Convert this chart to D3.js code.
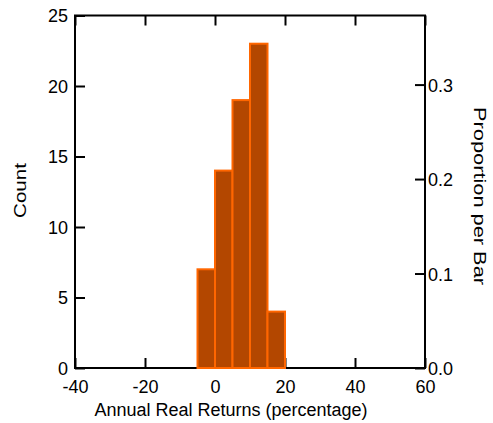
<!DOCTYPE html>
<html><head><meta charset="utf-8">
<script src="https://cdn.jsdelivr.net/npm/d3@7"></script>
<style>body{margin:0;background:#fff}svg{display:block}text{font-family:"Liberation Sans",Arial,sans-serif;fill:#000}</style>
</head><body><svg id="c" width="493" height="423"></svg>
<script>
const binStarts = [-40,-35,-30,-25,-20,-15,-10,-5,0,5,10,15,20,25,30,35,40,45,50,55];
const counts    = [0,0,0,0,0,0,0,7,14,19,23,4,0,0,0,0,0,0,0,0];
const binWidth = 5;
const xTicks = [-40,-20,0,20,40,60];
const yTicks = [0,5,10,15,20,25];
const propTicks = [0.0,0.1,0.2,0.3];
const total = d3.sum(counts);

const svg = d3.select("#c");
const L=75,R=425,T=15.5,B=368;
const x = d3.scaleLinear().domain([-40,60]).range([L,R]);
const y = d3.scaleLinear().domain([0,25]).range([B,T]);
const yp = d3.scaleLinear().domain([0,25/total]).range([B,T]);

const data = binStarts.map((s,i)=>({x0:s,x1:s+binWidth,c:counts[i]}));

svg.append("rect").attr("x",L).attr("y",T).attr("width",R-L).attr("height",B-T)
  .attr("fill","none").attr("stroke","#000").attr("stroke-width",2);

const fs = "18px";
const plain = d=>String(d);
const ga = svg.append("g").attr("transform",`translate(${L},0)`)
  .call(d3.axisRight(y).tickValues(yTicks).tickSize(10).tickFormat(plain));
ga.select(".domain").remove();
ga.selectAll("line").attr("stroke","#000").attr("stroke-width",2);
ga.selectAll("text").attr("x",-7).attr("text-anchor","end").style("font-size",fs).attr("dy","0.36em");

const gr = svg.append("g").attr("transform",`translate(${R},0)`)
  .call(d3.axisLeft(yp).tickValues(propTicks).tickSize(10).tickFormat(d3.format(".1f")));
gr.select(".domain").remove();
gr.selectAll("line").attr("stroke","#000").attr("stroke-width",2);
gr.selectAll("text").attr("x",3).attr("text-anchor","start").style("font-size",fs).attr("dy","0.36em");

const gb = svg.append("g").attr("transform",`translate(0,${B})`)
  .call(d3.axisTop(x).tickValues(xTicks).tickSize(10).tickFormat(plain));
gb.select(".domain").remove();
gb.selectAll("line").attr("stroke","#000").attr("stroke-width",2);
gb.selectAll("text").attr("y",25).attr("dy",0).style("font-size",fs);

const gt = svg.append("g").attr("transform",`translate(0,${T})`)
  .call(d3.axisBottom(x).tickValues(xTicks).tickSize(10).tickFormat(""));
gt.select(".domain").remove();
gt.selectAll("line").attr("stroke","#000").attr("stroke-width",2);

svg.append("g").selectAll("rect").data(data).join("rect")
  .attr("x",d=>x(d.x0)).attr("width",d=>x(d.x1)-x(d.x0))
  .attr("y",d=>y(d.c)).attr("height",d=>y(0)-y(d.c))
  .attr("fill","#B34700").attr("stroke","#FF6600").attr("stroke-width",2);

svg.append("text").attr("x",231).attr("y",416).attr("text-anchor","middle").style("font-size",fs)
  .text("Annual Real Returns (percentage)");
svg.append("text").attr("transform",`translate(26,190.5) rotate(-90)`).attr("text-anchor","middle")
  .style("font-size","17px").attr("textLength",55).attr("lengthAdjust","spacingAndGlyphs")
  .text("Count");
svg.append("text").attr("transform",`translate(474,196) rotate(90)`).attr("text-anchor","middle")
  .style("font-size","17px").attr("textLength",178).attr("lengthAdjust","spacingAndGlyphs")
  .text("Proportion per Bar");
</script></body></html>
